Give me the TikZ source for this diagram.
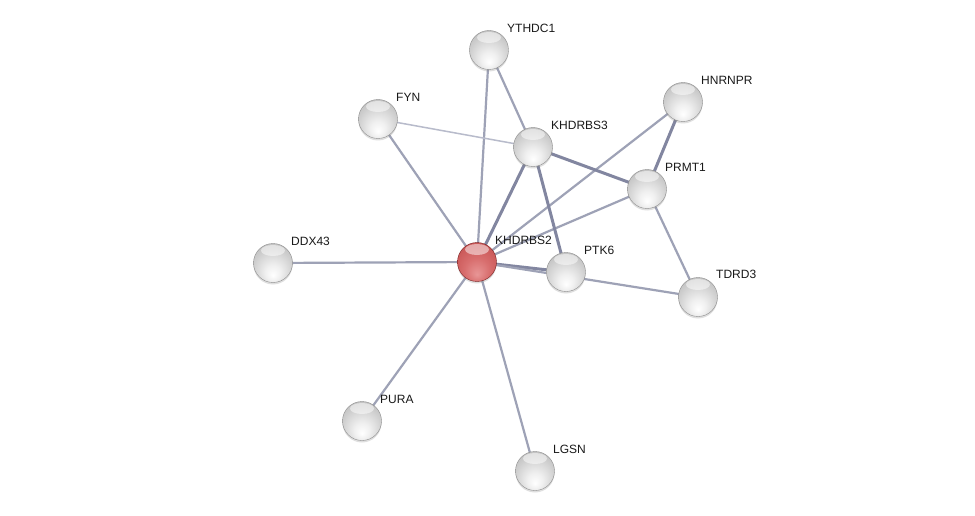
\documentclass[tikz,border=0pt]{standalone}
\usepackage{fontspec}
\setmainfont{Liberation Sans}
\usetikzlibrary{backgrounds,shadows}
\definecolor{edgeN}{RGB}{158,162,182}
\definecolor{edgeT}{RGB}{130,134,160}
\definecolor{edgeL}{RGB}{184,187,203}
\pgfdeclareradialshading{sphgrey}{\pgfpoint{0bp}{-16bp}}{color(0bp)=(white); color(10bp)=(white!94!black); color(24bp)=(black!18); color(36bp)=(black!28); color(45bp)=(black!42); color(50bp)=(black!60)}
\definecolor{rA}{RGB}{232,150,150}
\definecolor{rB}{RGB}{216,110,110}
\definecolor{rC}{RGB}{196,78,78}
\definecolor{rD}{RGB}{150,40,40}
\pgfdeclareradialshading{sphred}{\pgfpoint{0bp}{-16bp}}{color(0bp)=(rA); color(16bp)=(rB); color(36bp)=(rC); color(47bp)=(rD); color(50bp)=(rD)}
\tikzset{
  sph/.style={circle, minimum size=39pt, inner sep=0pt, shading=sphgrey, draw=black!45, line width=0.4pt,
    drop shadow={opacity=0.25, shadow xshift=0pt, shadow yshift=-2pt},
    path picture={\fill[white,opacity=0.5] ([yshift=-7pt]path picture bounding box.north) ellipse [x radius=12pt, y radius=5.5pt];}},
  sphr/.style={sph, shading=sphred, draw=rD!80!black},
  lbl/.style={anchor=west, inner sep=0pt, font=\fontsize{12pt}{14pt}\selectfont, text=black!90},
  eN/.style={draw=edgeN, line width=2.2pt},
  eT/.style={draw=edgeT, line width=3pt},
  eL/.style={draw=edgeL, line width=1.5pt}
}
\begin{document}
\begin{tikzpicture}[x=1pt,y=-1pt]
\useasboundingbox (0,0) rectangle (975,516);
\node[sph] (YTHDC1) at (489,50) {};
\node[sph] (FYN) at (378,119) {};
\node[sph] (HNRNPR) at (683,102) {};
\node[sph] (KHDRBS3) at (533,147) {};
\node[sph] (PRMT1) at (647,189) {};
\node[sph] (DDX43) at (273,263) {};
\node[sphr] (KHDRBS2) at (477,262) {};
\node[sph] (PTK6) at (566,272) {};
\node[sph] (TDRD3) at (698,297) {};
\node[sph] (PURA) at (362,421) {};
\node[sph] (LGSN) at (535,471) {};
\begin{pgfonlayer}{background}
\fill[white] (0,0) rectangle (975,516);
\draw[eN] (KHDRBS2.center) -- (YTHDC1.center);
\draw[eN] (KHDRBS2.center) -- (FYN.center);
\draw[eT] (KHDRBS2.center) -- (KHDRBS3.center);
\draw[eN] (KHDRBS2.center) -- (HNRNPR.center);
\draw[eN] (KHDRBS2.center) -- (PRMT1.center);
\draw[eN] (KHDRBS2.center) -- (DDX43.center);
\draw[eT] (KHDRBS2.center) -- (PTK6.center);
\draw[eN] (KHDRBS2.center) -- (TDRD3.center);
\draw[eN] (KHDRBS2.center) -- (PURA.center);
\draw[eN] (KHDRBS2.center) -- (LGSN.center);
\draw[eN] (YTHDC1.center) -- (KHDRBS3.center);
\draw[eL] (FYN.center) -- (KHDRBS3.center);
\draw[eT] (KHDRBS3.center) -- (PRMT1.center);
\draw[eT] (KHDRBS3.center) -- (PTK6.center);
\draw[eT] (HNRNPR.center) -- (PRMT1.center);
\draw[eN] (PRMT1.center) -- (TDRD3.center);
\end{pgfonlayer}
\node[lbl] (lYTHDC1) at (507,28) {YTHDC1};
\node[lbl] (lFYN) at (396,97) {FYN};
\node[lbl] (lHNRNPR) at (701,80) {HNRNPR};
\node[lbl] (lKHDRBS3) at (551,125) {KHDRBS3};
\node[lbl] (lPRMT1) at (665,167) {PRMT1};
\node[lbl] (lDDX43) at (291,241) {DDX43};
\node[lbl] (lKHDRBS2) at (495,240) {KHDRBS2};
\node[lbl] (lPTK6) at (584,250) {PTK6};
\node[lbl] (lTDRD3) at (716,274) {TDRD3};
\node[lbl] (lPURA) at (380,399) {PURA};
\node[lbl] (lLGSN) at (553,449) {LGSN};
\end{tikzpicture}
\end{document}
